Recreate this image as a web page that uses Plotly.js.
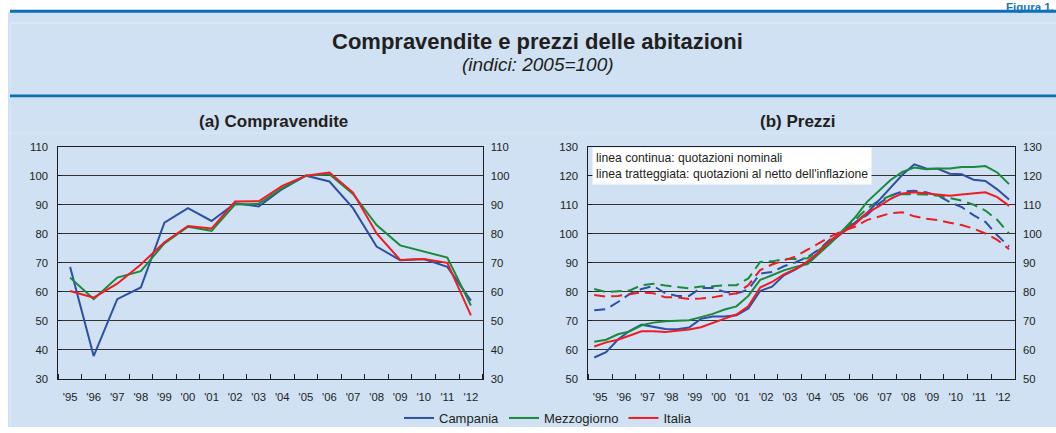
<!DOCTYPE html>
<html>
<head>
<meta charset="utf-8">
<script src="https://cdn.plot.ly/plotly-3.0.1.min.js"></script>
<style>
html,body{margin:0;padding:0;background:#ffffff;}
#chart{width:1056px;height:433px;}
</style>
</head>
<body>
<div id="chart"></div>
<script>
// ---------- DATA ----------
const years = [1995,1996,1997,1998,1999,2000,2001,2002,2003,2004,2005,2006,2007,2008,2009,2010,2011,2012];
const yearLabels = ["'95","'96","'97","'98","'99","'00","'01","'02","'03","'04","'05","'06","'07","'08","'09","'10","'11","'12"];
const seriesNames = ['Campania','Mezzogiorno','Italia'];
const semesters = ['I','II'];

// (a) Compravendite, annual index 2005=100
const salesCampania    = [68.6,37.9,57.5,61.5,83.8,88.8,84.4,90.5,89.4,95.4,100,98.0,88.8,75.6,70.9,71.3,68.6,57.0];
const salesMezzogiorno = [64.9,57.5,64.9,67.1,76.7,82.4,81.0,90.1,90.3,95.7,100,100.5,93.7,83.0,76.0,74.0,71.8,55.3];
const salesItalia      = [60.3,58.0,62.8,69.4,77.1,82.7,81.8,91.1,91.2,96.5,100,101.1,94.2,80.1,71.0,71.3,70.0,51.9];

// (b) Prezzi, semi-annual index 2005=100 (nominal and net of inflation)
const priceCampaniaNom    = [57.4,59.2,63.6,66.6,68.7,68.0,67.2,67.1,67.7,70.7,71.5,71.5,71.9,74.3,80.3,81.8,85.7,87.7,90.2,93.6,97.3,100.5,103.8,107.1,111.4,116.0,120.3,123.9,122.5,122.4,120.7,120.5,118.6,118.2,115.3,111.8];
const priceMezzogiornoNom = [62.8,63.5,65.4,66.4,68.5,69.4,69.9,70.0,70.2,71.3,72.4,73.9,75.0,78.6,84.1,85.7,87.4,88.6,89.6,93.3,97.0,101.3,105.6,110.9,114.8,118.5,121.3,122.8,122.2,122.5,122.5,123.0,123.0,123.3,121.1,117.1];
const priceItaliaNom      = [61.2,62.6,63.5,64.9,66.4,66.4,66.2,66.6,67.0,67.8,69.4,70.8,72.2,75.0,81.5,83.4,86.0,87.9,90.5,93.9,97.9,100.7,103.3,107.1,109.4,112.0,113.9,114.3,113.9,113.5,113.1,113.5,113.9,114.3,112.6,109.6];
const priceCampaniaReal    = [73.7,74.0,76.5,79.3,81.0,82.0,79.5,78.6,78.6,81.3,81.3,80.0,79.4,80.8,86.3,86.8,88.8,90.2,92.0,94.7,98.4,100.7,103.8,106.4,110.3,113.1,114.6,114.8,114.3,113.1,110.9,109.2,106.4,104.1,99.5,95.6];
const priceMezzogiornoReal = [81.0,79.9,80.2,80.5,82.3,82.8,82.2,81.6,81.2,81.8,81.9,82.3,82.3,84.6,90.3,90.5,91.3,91.3,91.6,94.5,97.9,100.9,104.6,108.6,111.4,113.1,113.7,113.7,113.5,113.1,112.2,111.4,110.0,108.0,104.8,100.1];
const priceItaliaReal      = [78.9,78.4,78.6,79.2,79.8,79.5,78.1,78.1,77.5,77.7,78.1,78.9,79.5,82.3,87.5,89.4,90.9,92.2,94.5,97.0,99.2,101.0,102.4,104.7,106.0,107.1,107.4,106.0,105.2,104.7,103.8,103.0,101.8,100.1,97.9,94.7];

// ---------- STYLE ----------
const W = 1056, H = 433;
const px = v => v / W;
const py = v => 1 - v / H;
const FONT = 'Liberation Sans, Arial, Helvetica, sans-serif';
const TXT = '#231f20';
const COLORS = {Campania:'#2d4fa6', Mezzogiorno:'#1b8a3c', Italia:'#ee1c25'};
const PANEL = '#cfe1f2';
const DARKBLUE = '#0b70b3';

// x positions derived from data periods
const xAnnual = years.map(y => y + 0.5);
const xSemi = [];
years.forEach(y => semesters.forEach((s, i) => xSemi.push(y + (i === 0 ? 0.25 : 0.75))));

const salesSeries = [salesCampania, salesMezzogiorno, salesItalia];
const nomSeries = [priceCampaniaNom, priceMezzogiornoNom, priceItaliaNom];
const realSeries = [priceCampaniaReal, priceMezzogiornoReal, priceItaliaReal];

const traces = [];
seriesNames.forEach((n, i) => {
  traces.push({x: xAnnual, y: salesSeries[i], type:'scatter', mode:'lines', name:n,
    xaxis:'x', yaxis:'y', line:{color:COLORS[n], width:2}, legendgroup:n, showlegend:true, hoverinfo:'skip'});
});
seriesNames.forEach((n, i) => {
  traces.push({x: xSemi, y: realSeries[i], type:'scatter', mode:'lines', name:n,
    xaxis:'x2', yaxis:'y3', line:{color:COLORS[n], width:2, dash:'11px,6px'}, legendgroup:n, showlegend:false, hoverinfo:'skip'});
});
seriesNames.forEach((n, i) => {
  traces.push({x: xSemi, y: nomSeries[i], type:'scatter', mode:'lines', name:n,
    xaxis:'x2', yaxis:'y3', line:{color:COLORS[n], width:2}, legendgroup:n, showlegend:false, hoverinfo:'skip'});
});
// empty traces so the right-hand mirror axes exist
traces.push({x:[], y:[], xaxis:'x', yaxis:'y2', showlegend:false, hoverinfo:'skip', type:'scatter'});
traces.push({x:[], y:[], xaxis:'x2', yaxis:'y4', showlegend:false, hoverinfo:'skip', type:'scatter'});

const tickFont = {family: FONT, size: 11.3, color: TXT};
function xAxis(domain, anchor) {
  return {
    domain: domain, anchor: anchor, range: [1995, 2013], fixedrange: true,
    tickmode: 'array', tickvals: xAnnual, ticktext: yearLabels, ticks: '',
    tickfont: tickFont, ticklabelstandoff: 7,
    showgrid: false, zeroline: false,
    showline: true, mirror: true, linecolor: '#1e1e1e', linewidth: 1,
    minor: {tickmode: 'linear', tick0: 1995, dtick: 1, ticks: 'inside', ticklen: 5, tickcolor: '#1e1e1e', tickwidth: 1, showgrid: false}
  };
}
function yAxis(domain, anchor, range) {
  return {
    domain: domain, anchor: anchor, range: range, dtick: 10, tick0: 0, fixedrange: true,
    ticks: 'inside', ticklen: 4, tickcolor: '#1e1e1e', tickfont: tickFont, ticklabelstandoff: 7,
    showgrid: true, gridcolor: '#333333', gridwidth: 1, zeroline: false,
    showline: true, mirror: true, linecolor: '#1e1e1e', linewidth: 1
  };
}
function yAxisRight(over, anchor, range) {
  return {
    overlaying: over, anchor: anchor, side: 'right', range: range, dtick: 10, tick0: 0, fixedrange: true,
    ticks: '', tickfont: tickFont, ticklabelstandoff: 7, showgrid: false, zeroline: false, showline: false
  };
}

const yDom = [py(384.3), py(148.7)];
const shapes = [
  // light blue background panel
  {type:'rect', xref:'paper', yref:'paper', x0:px(8), x1:px(1056), y0:py(433), y1:py(12), fillcolor:PANEL, line:{width:0}, layer:'below'},
  // top dark blue rule
  {type:'rect', xref:'paper', yref:'paper', x0:px(10), x1:px(1056), y0:py(13), y1:py(10), fillcolor:DARKBLUE, line:{width:0}, layer:'below'},
  // separator between title block and charts
  {type:'rect', xref:'paper', yref:'paper', x0:px(10), x1:px(1056), y0:py(98.5), y1:py(95.8), fillcolor:DARKBLUE, line:{width:0}, layer:'below'},
  // faint light lines
  {type:'line', xref:'paper', yref:'paper', x0:px(10), x1:px(1056), y0:py(23.5), y1:py(23.5), line:{color:'#e4eef8', width:1}, layer:'below'},
  {type:'line', xref:'paper', yref:'paper', x0:px(10), x1:px(1056), y0:py(135), y1:py(135), line:{color:'#dde9f5', width:1}, layer:'below'},
  {type:'line', xref:'paper', yref:'paper', x0:px(10.5), x1:px(10.5), y0:py(23.5), y1:py(88), line:{color:'#dde9f5', width:1}, layer:'below'},
  {type:'line', xref:'paper', yref:'paper', x0:px(10.5), x1:px(10.5), y0:py(106), y1:py(433), line:{color:'#dde9f5', width:1}, layer:'below'}
];

const annotations = [
  {text:'<b>Figura 1.</b>', xref:'paper', yref:'paper', x:px(1055), y:py(0.5), xanchor:'right', yanchor:'top', showarrow:false,
   borderpad:0, font:{family:FONT, size:11.5, color:'#1a75bb'}},
  {text:'<b>Compravendite e prezzi delle abitazioni</b>', xref:'paper', yref:'paper', x:px(537.5), y:py(42.5), xanchor:'center', yanchor:'middle', showarrow:false,
   font:{family:FONT, size:22, color:TXT}},
  {text:'<i>(indici: 2005=100)</i>', xref:'paper', yref:'paper', x:px(537.5), y:py(65), xanchor:'center', yanchor:'middle', showarrow:false,
   font:{family:FONT, size:19, color:TXT}},
  {text:'<b>(a) Compravendite</b>', xref:'paper', yref:'paper', x:px(273.3), y:py(123.2), xanchor:'center', yanchor:'middle', showarrow:false,
   font:{family:FONT, size:17, color:TXT}},
  {text:'<b>(b) Prezzi</b>', xref:'paper', yref:'paper', x:px(798), y:py(123.2), xanchor:'center', yanchor:'middle', showarrow:false,
   font:{family:FONT, size:17, color:TXT}},
  {text:'linea continua: quotazioni nominali<br>linea tratteggiata: quotazioni al netto dell\'inflazione', xref:'paper', yref:'paper',
   x:px(592), y:py(168.5), xanchor:'left', yanchor:'middle', align:'left', showarrow:false, bgcolor:'#ffffff', borderpad:3,
   font:{family:FONT, size:12.2, color:TXT}}
];

const layout = {
  width: W, height: H,
  margin: {l:0, r:0, t:0, b:0, pad:0},
  paper_bgcolor: '#ffffff', plot_bgcolor: '#ffffff',
  font: {family: FONT, color: TXT},
  showlegend: true,
  legend: {orientation:'h', x:px(548), xanchor:'center', y:py(424), yanchor:'middle',
    bgcolor:'rgba(0,0,0,0)', font:{family:FONT, size:13, color:TXT}, itemwidth:30, traceorder:'normal'},
  xaxis: xAxis([px(58.3), px(482.7)], 'y'),
  yaxis: yAxis(yDom, 'x', [30, 110]),
  yaxis2: yAxisRight('y', 'x', [30, 110]),
  xaxis2: xAxis([px(588.3), px(1015)], 'y3'),
  yaxis3: yAxis(yDom, 'x2', [50, 130]),
  yaxis4: yAxisRight('y3', 'x2', [50, 130]),
  shapes: shapes,
  annotations: annotations
};

Plotly.newPlot('chart', traces, layout, {staticPlot:true, displayModeBar:false});
</script>
</body>
</html>
